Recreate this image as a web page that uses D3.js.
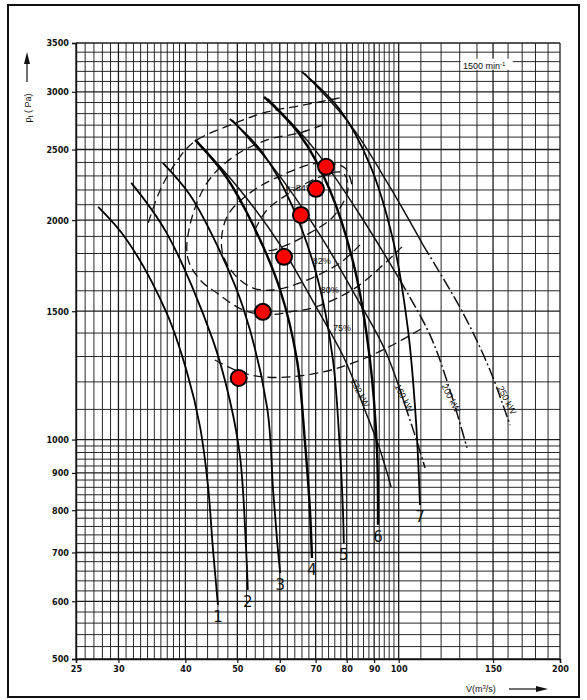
<!DOCTYPE html>
<html>
<head>
<meta charset="utf-8">
<script src="https://cdn.jsdelivr.net/npm/d3@7"></script>
<style>
  body { margin: 0; background: #fff; }
  text { font-family: "Liberation Sans", Arial, sans-serif; }
</style>
</head>
<body>
<div class="canvas"></div>
<script>

// tick labels
const xTicks = [25, 30, 40, 50, 60, 70, 80, 90, 100, 150, 200];
const yTicks = [500, 600, 700, 800, 900, 1000, 1500, 2000, 2500, 3000, 3500];

// fan curves 1..7  [flow m3/s, pressure Pa]
const curve1 = [[27.5,2085],[31.1,1879],[36.9,1492],[40.3,1235],[42.6,1041],[44.1,861],[45.0,712],[46.0,593]];
const curve2 = [[31.7,2250],[36.9,1921],[45.0,1370],[48.4,1133],[50.6,946],[51.9,712],[52.3,622]];
const curve3 = [[36.3,2397],[40.8,2166],[45.8,1850],[51.2,1521],[56.8,1109],[58.3,853],[59.3,728],[60.1,656]];
const curve4 = [[41.7,2577],[47.4,2307],[53.5,1970],[60.1,1604],[64.6,1286],[66.8,1000],[68.3,801],[68.9,688]];
const curve5 = [[48.4,2754],[55.6,2481],[63.2,2098],[70.7,1656],[75.4,1286],[77.7,968],[78.7,801],[79.0,721]];
const curve6 = [[56.1,2952],[65.4,2619],[74.4,2200],[82.9,1709],[88.4,1286],[91.1,968],[91.5,764]];
const curve7 = [[66.0,3195],[77.7,2834],[88.4,2382],[97.6,1879],[104.1,1414],[107.7,1064],[109.6,813]];
const fanCurves = [curve1, curve2, curve3, curve4, curve5, curve6, curve7];
const curveNames = ["1", "2", "3", "4", "5", "6", "7"];

// power lines
const kw132 = [[42.0,2569],[50.6,2200],[60.1,1850],[69.8,1530],[79.4,1286],[86.5,1098],[92.3,968],[96.8,861]];
const kw160 = [[48.9,2745],[58.8,2344],[71.3,1909],[82.9,1579],[94.3,1327],[102.7,1116],[107.2,1015],[112.0,914]];
const kw200 = [[57.0,2934],[69.8,2497],[84.7,2033],[100.5,1656],[114.4,1392],[124.6,1170],[134.1,974]];
const kw250 = [[66.8,3175],[81.8,2685],[96.3,2221],[111.0,1850],[131.8,1492],[148.0,1246],[161.3,1047]];
const powerLines = [kw132, kw160, kw200, kw250];
const powerNames = ["132 kW", "160 kW", "200 kW", "250 kW"];
const powerLabelAt = [[84.7,1159], [102.3,1140], [125.2,1140], [159.2,1133]];

// efficiency contours
const eff75Upper = [[34.1,1983],[35.9,2200],[38.7,2419],[41.5,2561],[49.1,2711],[56.8,2815],[65.4,2870],[77.7,2943]];
const eff75Lower = [[45.4,1286],[50.6,1238],[55.8,1219],[62.7,1219],[72.2,1238],[82.2,1274],[95.1,1336],[111.0,1423]];
const eff80 = [[72.2,2703],[65.4,2635],[56.8,2577],[49.1,2442],[43.9,2250],[40.8,1970],[40.4,1775],[42.6,1656],[45.8,1589],[51.2,1506],[56.8,1483],[62.7,1497],[70.1,1521],[83.6,1620],[101.4,1838]];
const eff82 = [[84.7,1850],[77.7,1747],[65.4,1640],[58.3,1604],[53.5,1614],[49.1,1693],[46.8,1820],[47.8,2020],[52.8,2180],[61.9,2322],[71.3,2397],[79.4,2358],[81.8,2236]];
const eff84 = [[53.9,1939],[56.8,2066],[62.7,2180],[71.3,2293],[78.7,2322],[80.4,2200],[75.4,2020],[68.3,1921],[61.9,1850],[56.8,1820],[53.9,1939]];
const effLabels = ["82%", "80%", "75%"];
const effLabelAt = [[71.9,1758], [74.4,1604], [78.4,1423]];

// operating points
const points = [[50.3,1215],[55.8,1497],[61.1,1781],[65.7,2033],[70.1,2208],[73.2,2367]];

const W = 587, H = 700;
const svg = d3.select('.canvas')
  .append('svg')
  .attr('width', W)
  .attr('height', H);

const x = d3.scaleLog().domain([25, 200]).range([76, 560]);
const y = d3.scaleLog().domain([500, 3500]).range([659, 43]);

// outer frame
svg.append('rect')
  .attr('x', 8).attr('y', 5)
  .attr('width', 571).attr('height', 692)
  .attr('fill', 'none').attr('stroke', '#111').attr('stroke-width', 2);

// grid: 1 step to 40, 2 steps to 100, 10 steps to 200
const vGrid = d3.range(25, 40, 1).concat(d3.range(40, 100, 2), d3.range(100, 201, 10));
const hGrid = d3.range(500, 1000, 20).concat(d3.range(1000, 3501, 100));

const grid = svg.append('g').attr('stroke', '#1c1c1c');
grid.selectAll('.v').data(vGrid).enter().append('line')
  .attr('x1', d => x(d)).attr('x2', d => x(d))
  .attr('y1', y(3500)).attr('y2', y(500))
  .attr('stroke-width', d => xTicks.includes(d) ? 1.3 : 0.95);
grid.selectAll('.h').data(hGrid).enter().append('line')
  .attr('x1', x(25)).attr('x2', x(200))
  .attr('y1', d => y(d)).attr('y2', d => y(d))
  .attr('stroke-width', d => yTicks.includes(d) ? 1.3 : 0.95);

// axes
const xAxis = d3.axisBottom(x).tickValues(xTicks).tickFormat(d3.format('d')).tickSize(4).tickPadding(3);
const yAxis = d3.axisLeft(y).tickValues(yTicks).tickFormat(d3.format('d')).tickSize(4).tickPadding(3);

const xAxisGroup = svg.append('g').attr('transform', `translate(0, ${y(500)})`).call(xAxis);
const yAxisGroup = svg.append('g').attr('transform', `translate(${x(25)}, 0)`).call(yAxis);
[xAxisGroup, yAxisGroup].forEach(g => {
  g.select('.domain').attr('stroke', '#111').attr('stroke-width', 1.4);
  g.selectAll('.tick line').attr('stroke', '#111').attr('stroke-width', 1.2);
  g.selectAll('text')
    .attr('fill', '#111')
    .style('font-size', '9px')
    .style('font-weight', 'bold')
    .style('font-family', '"DejaVu Sans Condensed", "DejaVu Sans", sans-serif');
});

const line = d3.line()
  .x(d => x(d[0]))
  .y(d => y(d[1]))
  .curve(d3.curveCatmullRom.alpha(0.5));

// efficiency contours (dashed)
const effGroup = svg.append('g')
  .attr('fill', 'none').attr('stroke', '#111')
  .attr('stroke-width', 1.3).attr('stroke-dasharray', '9,5');
[eff75Upper, eff75Lower, eff80, eff82, eff84].forEach(c => {
  effGroup.append('path').attr('d', line(c));
});

// power lines: solid upper part, dash-dot lower part
const dashFrom = [99, 5, 3, 3];
powerLines.forEach((p, i) => {
  const split = Math.min(dashFrom[i], p.length - 1);
  svg.append('path').attr('d', line(p.slice(0, split + 1)))
    .attr('fill', 'none').attr('stroke', '#111').attr('stroke-width', 1.5);
  if (split < p.length - 1) {
    svg.append('path').attr('d', line(p.slice(split)))
      .attr('fill', 'none').attr('stroke', '#111').attr('stroke-width', 1.5)
      .attr('stroke-dasharray', '12,3,2,3');
  }
});

// fan curves
fanCurves.forEach((c, i) => {
  svg.append('path').attr('d', line(c))
    .attr('fill', 'none').attr('stroke', '#000')
    .attr('stroke-width', (i === 3 || i === 5) ? 2.4 : 1.8);
  const last = c[c.length - 1];
  svg.append('text')
    .attr('x', x(last[0]))
    .attr('y', y(last[1]) + 17)
    .attr('text-anchor', 'middle')
    .style('font-size', '15px')
    .style('font-family', '"DejaVu Sans", sans-serif')
    .attr('fill', '#111')
    .text(curveNames[i]);
});

// power labels
powerNames.forEach((n, i) => {
  const px = x(powerLabelAt[i][0]), py = y(powerLabelAt[i][1]);
  svg.append('text')
    .attr('transform', `translate(${px}, ${py}) rotate(63)`)
    .attr('text-anchor', 'middle').attr('dy', '0.35em')
    .style('font-size', '9px')
    .attr('fill', '#111')
    .text(n);
});

// efficiency labels
effLabels.forEach((n, i) => {
  svg.append('text')
    .attr('x', x(effLabelAt[i][0])).attr('y', y(effLabelAt[i][1]))
    .attr('text-anchor', 'middle').attr('dy', '0.35em')
    .style('font-size', '9px')
    .attr('fill', '#111')
    .text(n);
});
svg.append('text')
  .attr('x', x(61.5)).attr('y', y(2215)).attr('dy', '0.35em')
  .style('font-size', '9px').attr('fill', '#111')
  .text('η=84%');

// speed label
svg.append('rect')
  .attr('x', x(130.5)).attr('y', y(3330))
  .attr('width', 52).attr('height', 11)
  .attr('fill', '#fff');
svg.append('text')
  .attr('x', x(131.8)).attr('y', y(3225))
  .style('font-size', '9px').attr('fill', '#111')
  .html('1500 min<tspan dy="-3" style="font-size:6px">-1</tspan>');

// operating points
svg.selectAll('.pt').data(points).enter().append('circle')
  .attr('cx', d => x(d[0])).attr('cy', d => y(d[1]))
  .attr('r', 8)
  .attr('fill', '#ff0000').attr('stroke', '#000').attr('stroke-width', 2);

// axis titles
const yt = svg.append('g').attr('transform', 'translate(31, 108) rotate(-90)');
yt.append('text').attr('text-anchor', 'middle')
  .style('font-size', '9px').attr('fill', '#111')
  .html('p<tspan dy="2" style="font-size:7px">t</tspan><tspan dy="-2"> ( Pa)</tspan>');
svg.append('line').attr('x1', 27).attr('x2', 27).attr('y1', 82).attr('y2', 62)
  .attr('stroke', '#111').attr('stroke-width', 1.2);
svg.append('path').attr('d', 'M24,64 L27,52 L30,64 Z').attr('fill', '#111');

svg.append('text')
  .attr('x', 466).attr('y', 692)
  .style('font-size', '9px').attr('fill', '#111')
  .html('V̇(m<tspan dy="-3" style="font-size:6px">3</tspan><tspan dy="3">/s)</tspan>');
svg.append('line').attr('x1', 509).attr('x2', 538).attr('y1', 689).attr('y2', 689)
  .attr('stroke', '#111').attr('stroke-width', 1.2);
svg.append('path').attr('d', 'M536,686 L548,689 L536,692 Z').attr('fill', '#111');

</script>
</body>
</html>
